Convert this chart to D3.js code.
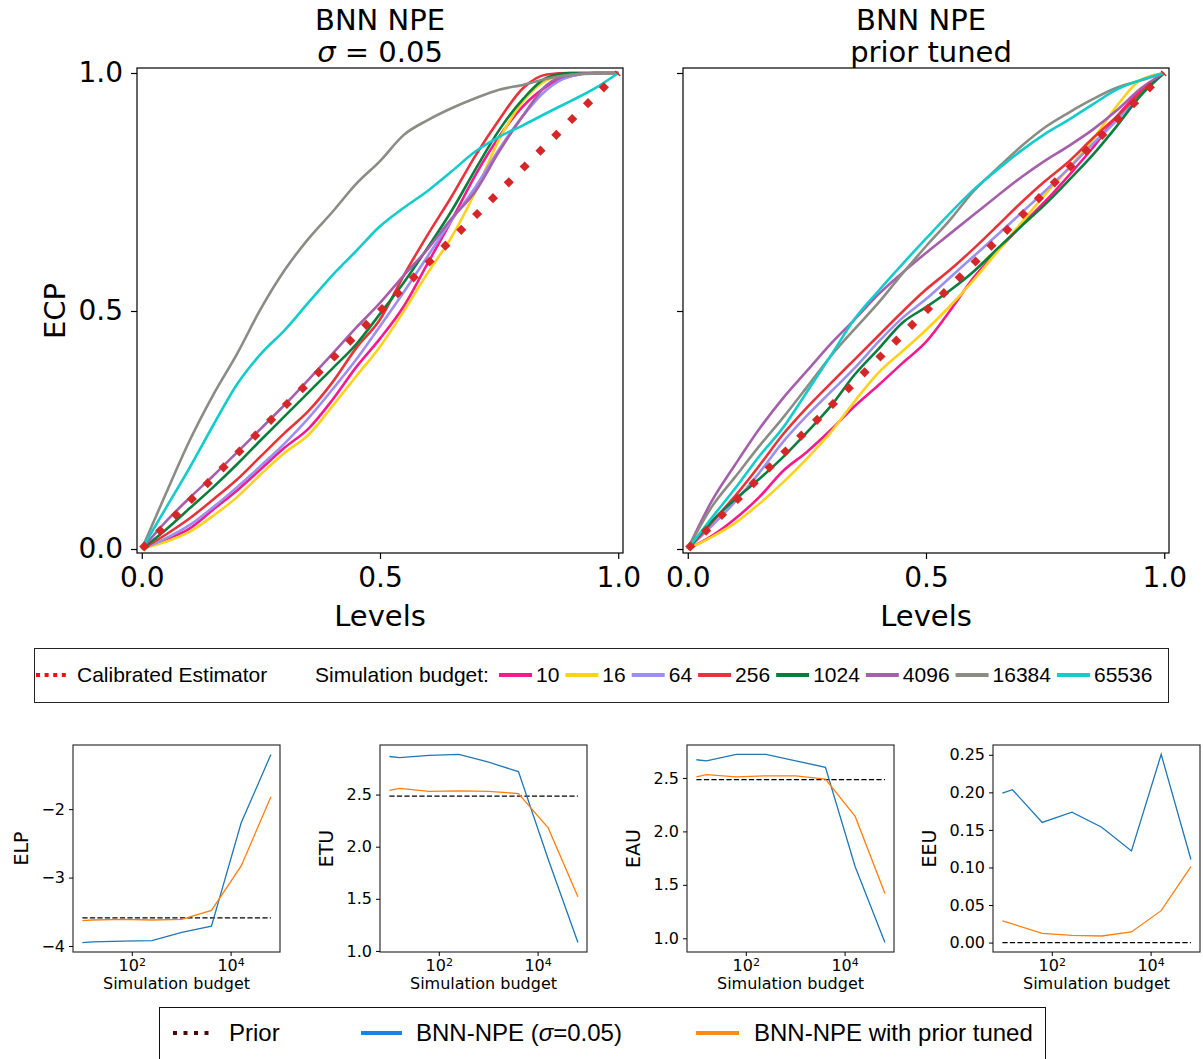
<!DOCTYPE html>
<html><head><meta charset="utf-8">
<script src="https://cdn.jsdelivr.net/npm/d3@7"></script>
<style>body{margin:0;background:#fff}svg{display:block}</style>
</head><body>
<svg id="c" width="1203" height="1059"></svg>
<script>
// ---------- data ----------
const levels = [0,0.05,0.1,0.15,0.2,0.25,0.3,0.35,0.4,0.45,0.5,0.55,0.6,0.65,0.7,0.75,0.8,0.85,0.9,0.95,1];
const budgets = [10,16,64,256,1024,4096,16384,65536];
const budgetLabels = ["10","16","64","256","1024","4096","16384","65536"];
const calibLevels = [0,1];

// BNN NPE sigma=0.05 (ECP per level)
const sig10    = [0,0.02,0.043,0.083,0.123,0.168,0.213,0.253,0.313,0.382,0.442,0.51,0.60,0.69,0.785,0.866,0.93,0.972,0.993,1,1];
const sig16    = [0,0.015,0.036,0.07,0.109,0.157,0.202,0.24,0.30,0.363,0.425,0.50,0.58,0.655,0.75,0.86,0.94,0.985,0.998,1,1];
const sig64    = [0,0.022,0.05,0.088,0.13,0.175,0.222,0.275,0.335,0.398,0.468,0.54,0.615,0.69,0.76,0.84,0.91,0.965,0.993,1,1];
const sig256   = [0,0.03,0.064,0.104,0.146,0.195,0.244,0.29,0.35,0.422,0.482,0.575,0.66,0.74,0.826,0.902,0.968,0.997,1,1,1];
const sig1024  = [0,0.04,0.085,0.13,0.178,0.229,0.279,0.329,0.379,0.43,0.494,0.56,0.633,0.71,0.797,0.88,0.945,0.99,1,1,1];
const sig4096  = [0,0.057,0.107,0.154,0.203,0.253,0.303,0.356,0.41,0.465,0.517,0.575,0.63,0.694,0.751,0.835,0.91,0.975,0.996,1,1];
const sig16384 = [0,0.115,0.227,0.324,0.41,0.505,0.586,0.652,0.708,0.767,0.815,0.87,0.901,0.926,0.947,0.965,0.975,0.988,0.996,0.999,1];
const sig65536 = [0,0.085,0.17,0.26,0.346,0.41,0.46,0.518,0.575,0.626,0.678,0.717,0.752,0.793,0.835,0.866,0.89,0.916,0.941,0.967,1];

// BNN NPE prior tuned
const tun10    = [0,0.027,0.064,0.109,0.164,0.204,0.25,0.30,0.344,0.39,0.435,0.50,0.57,0.626,0.68,0.73,0.785,0.843,0.908,0.963,1];
const tun16    = [0,0.025,0.055,0.095,0.14,0.19,0.245,0.31,0.37,0.415,0.46,0.51,0.565,0.625,0.685,0.745,0.80,0.86,0.93,0.985,1];
const tun64    = [0,0.048,0.10,0.16,0.225,0.28,0.33,0.38,0.435,0.485,0.525,0.57,0.615,0.66,0.706,0.752,0.80,0.851,0.90,0.955,1];
const tun256   = [0,0.055,0.112,0.175,0.241,0.297,0.348,0.398,0.448,0.498,0.545,0.586,0.631,0.679,0.728,0.773,0.814,0.863,0.908,0.958,1];
const tun1024  = [0,0.058,0.105,0.147,0.193,0.245,0.30,0.366,0.42,0.475,0.508,0.543,0.583,0.631,0.678,0.724,0.775,0.828,0.888,0.952,1];
const tun4096  = [0,0.10,0.178,0.252,0.317,0.374,0.431,0.482,0.535,0.58,0.622,0.662,0.702,0.742,0.781,0.816,0.847,0.881,0.921,0.967,1];
const tun16384 = [0,0.088,0.152,0.216,0.276,0.34,0.405,0.462,0.517,0.578,0.636,0.691,0.752,0.80,0.846,0.886,0.917,0.945,0.969,0.984,1];
const tun65536 = [0,0.065,0.128,0.195,0.255,0.33,0.406,0.483,0.542,0.598,0.652,0.705,0.755,0.797,0.837,0.872,0.902,0.934,0.965,0.985,1];

// bottom metrics
const elpBNN   = [-3.95,-3.94,-3.93,-3.92,-3.80,-3.71,-2.20,-1.20];
const elpTuned = [-3.63,-3.62,-3.61,-3.62,-3.61,-3.48,-2.83,-1.82];
const elpPrior = -3.59;
const etuBNN   = [2.865,2.855,2.875,2.885,2.81,2.72,1.88,1.08];
const etuTuned = [2.54,2.56,2.53,2.535,2.53,2.51,2.18,1.52];
const etuPrior = 2.485;
const eauBNN   = [2.67,2.66,2.72,2.72,2.66,2.60,1.67,0.96];
const eauTuned = [2.51,2.53,2.51,2.52,2.52,2.49,2.14,1.42];
const eauPrior = 2.485;
const eeuBNN   = [0.199,0.2035,0.160,0.1735,0.1535,0.122,0.2505,0.1106];
const eeuTuned = [0.0288,0.0248,0.0124,0.0097,0.0088,0.0142,0.0425,0.101];
const eeuPrior = 0;

const ecpTicks = [0,0.5,1];
const elpTicks = [-4,-3,-2];
const etuTicks = [1.0,1.5,2.0,2.5];
const eauTicks = [1.0,1.5,2.0,2.5];
const eeuTicks = [0,0.05,0.1,0.15,0.2,0.25];
const budgetTicks = [100,10000];

// ---------- styles ----------
const budgetColors = ["#f7198f","#ffd21a","#9d8ff0","#e8333a","#0b7e3d","#a55fab","#8c8c84","#12cccc"];
const FONT = "'DejaVu Sans', sans-serif";
const LFONT = "'Liberation Sans', Arial, sans-serif";
const svg = d3.select("#c");

// ---------- top panels ----------
function topPanel(cfg){
  const x = d3.scaleLinear().domain([-0.01,1.01]).range([cfg.left, cfg.left+486]);
  const y = d3.scaleLinear().domain([-0.0084,1.0105]).range([553,68]);
  const g = svg.append("g");
  const line = d3.line().x((d,i)=>x(levels[i])).y(d=>y(d)).curve(d3.curveMonotoneX);
  cfg.series.forEach((s,i)=>{
    g.append("path").attr("d", line(s)).attr("fill","none")
      .attr("stroke", budgetColors[i]).attr("stroke-width",2.6).attr("stroke-linejoin","round");
  });
  g.append("path").attr("d", d3.line().x(d=>x(d)).y(d=>y(d))(calibLevels))
    .attr("fill","none").attr("stroke","#d62728").attr("stroke-width",7.2)
    .attr("stroke-dasharray","7.2,15.2").attr("stroke-linecap","butt");
  g.append("rect").attr("x",cfg.left).attr("y",68).attr("width",486).attr("height",485)
    .attr("fill","none").attr("stroke","#000").attr("stroke-width",1.2);
  const ax = g.append("g").attr("transform",`translate(${cfg.left},0)`)
    .call(d3.axisLeft(y).tickValues(ecpTicks).tickSize(6).tickPadding(8)
      .tickFormat(cfg.ylabels ? d3.format(".1f") : ()=>""));
  const bx = g.append("g").attr("transform","translate(0,553)")
    .call(d3.axisBottom(x).tickValues(ecpTicks).tickSize(6).tickPadding(8).tickFormat(d3.format(".1f")));
  [ax,bx].forEach(a=>{
    a.select(".domain").remove();
    a.selectAll(".tick line").attr("stroke","#000").attr("stroke-width",1.2);
    a.selectAll(".tick text").attr("font-family",FONT).attr("font-size",28).attr("fill","#000");
  });
  const cx = (x(0)+x(1))/2;
  g.append("text").attr("x",cx).attr("y",626).attr("text-anchor","middle")
    .attr("font-family",FONT).attr("font-size",29).text("Levels");
  cfg.title(g, cx);
  if (cfg.ylabels){
    g.append("text").attr("transform","translate(65,311) rotate(-90)").attr("text-anchor","middle")
      .attr("font-family",FONT).attr("font-size",29).text("ECP");
  }
}

topPanel({left:137, ylabels:true,
  series:[sig10,sig16,sig64,sig256,sig1024,sig4096,sig16384,sig65536],
  title:(g,cx)=>{
    g.append("text").attr("x",cx).attr("y",30).attr("text-anchor","middle")
      .attr("font-family",FONT).attr("font-size",29).text("BNN NPE");
    const t = g.append("text").attr("x",cx).attr("y",62).attr("text-anchor","middle")
      .attr("font-family",FONT).attr("font-size",29);
    t.append("tspan").attr("font-style","italic").text("σ");
    t.append("tspan").text(" = 0.05");
  }});
topPanel({left:683, ylabels:false,
  series:[tun10,tun16,tun64,tun256,tun1024,tun4096,tun16384,tun65536],
  title:(g,cx)=>{
    g.append("text").attr("x",cx-5).attr("y",30).attr("text-anchor","middle")
      .attr("font-family",FONT).attr("font-size",29).text("BNN NPE");
    g.append("text").attr("x",cx+5).attr("y",62).attr("text-anchor","middle")
      .attr("font-family",FONT).attr("font-size",29).text("prior tuned");
  }});

// ---------- top legend ----------
(function(){
  const g = svg.append("g");
  g.append("rect").attr("x",34.5).attr("y",648.5).attr("width",1134).attr("height",54)
    .attr("fill","#fff").attr("stroke","#222").attr("stroke-width",1);
  const cy = 675, by = 682;
  g.append("line").attr("x1",36).attr("x2",69).attr("y1",cy).attr("y2",cy)
    .attr("stroke","#f01010").attr("stroke-width",4).attr("stroke-dasharray","4,4.6");
  g.append("text").attr("x",77).attr("y",by).attr("font-family",LFONT).attr("font-size",21).text("Calibrated Estimator");
  g.append("text").attr("x",315).attr("y",by).attr("font-family",LFONT).attr("font-size",21).text("Simulation budget:");
  let px = 499;
  budgetLabels.forEach((lab,i)=>{
    g.append("line").attr("x1",px).attr("x2",px+33).attr("y1",cy).attr("y2",cy)
      .attr("stroke",budgetColors[i]).attr("stroke-width",4);
    const t = g.append("text").attr("x",px+37).attr("y",by).attr("font-family",LFONT).attr("font-size",21).text(lab);
    px = px + 37 + t.node().getComputedTextLength() + 6;
  });
})();

// ---------- bottom panels ----------
const bottomPanels = [
  {left:73,  label:"ELP", blue:elpBNN, orange:elpTuned, prior:elpPrior, ticks:elpTicks, fmt:d3.format("d")},
  {left:380, label:"ETU", blue:etuBNN, orange:etuTuned, prior:etuPrior, ticks:etuTicks, fmt:d3.format(".1f")},
  {left:687, label:"EAU", blue:eauBNN, orange:eauTuned, prior:eauPrior, ticks:eauTicks, fmt:d3.format(".1f")},
  {left:993, label:"EEU", blue:eeuBNN, orange:eeuTuned, prior:eeuPrior, ticks:eeuTicks, fmt:d3.format(".2f")}
];
bottomPanels.forEach(p=>{
  const W = 207, top = 745, bot = 952;
  const x = d3.scaleLog().domain([Math.pow(10,0.81), Math.pow(10,5.0)]).range([p.left, p.left+W]);
  const all = p.blue.concat(p.orange, [p.prior]);
  const mn = d3.min(all), mx = d3.max(all), m = (mx-mn)*0.05;
  const y = d3.scaleLinear().domain([mn-m, mx+m]).range([bot, top]);
  const g = svg.append("g");
  const line = d3.line().x((d,i)=>x(budgets[i])).y(d=>y(d));
  g.append("line").attr("x1",x(budgets[0])).attr("x2",x(budgets[budgets.length-1]))
    .attr("y1",y(p.prior)).attr("y2",y(p.prior)).attr("stroke","#000").attr("stroke-width",1.3)
    .attr("stroke-dasharray","5.2,2.3");
  g.append("path").attr("d",line(p.blue)).attr("fill","none").attr("stroke","#1f77b4").attr("stroke-width",1.3);
  g.append("path").attr("d",line(p.orange)).attr("fill","none").attr("stroke","#ff7f0e").attr("stroke-width",1.3);
  g.append("rect").attr("x",p.left).attr("y",top).attr("width",W).attr("height",bot-top)
    .attr("fill","none").attr("stroke","#333").attr("stroke-width",1.2);
  const ay = g.append("g").attr("transform",`translate(${p.left},0)`)
    .call(d3.axisLeft(y).tickValues(p.ticks).tickSize(4).tickPadding(4).tickFormat(p.fmt));
  const ax = g.append("g").attr("transform",`translate(0,${bot})`)
    .call(d3.axisBottom(x).tickValues(budgetTicks).tickSize(4).tickPadding(4).tickFormat(()=>""));
  [ay,ax].forEach(a=>{
    a.select(".domain").remove();
    a.selectAll(".tick line").attr("stroke","#000").attr("stroke-width",1);
    a.selectAll(".tick text").attr("font-family",FONT).attr("font-size",16).attr("fill","#000");
  });
  ax.selectAll(".tick text").each(function(d){
    const t = d3.select(this);
    t.append("tspan").text("10");
    t.append("tspan").attr("dy","-0.45em").attr("font-size",11).text(Math.round(Math.log10(d)));
  });
  g.append("text").attr("x",p.left+W/2).attr("y",989).attr("text-anchor","middle")
    .attr("font-family",FONT).attr("font-size",16).text("Simulation budget");
  const bb = ay.node().getBBox();
  const lx = p.left + bb.x - 20;
  g.append("text").attr("transform",`translate(${lx},${(top+bot)/2}) rotate(-90)`)
    .attr("text-anchor","middle").attr("dy","0.35em")
    .attr("font-family",FONT).attr("font-size",19).text(p.label);
});

// ---------- bottom legend ----------
(function(){
  const g = svg.append("g");
  g.append("rect").attr("x",159.5).attr("y",1007.5).attr("width",886).attr("height",70)
    .attr("fill","#fff").attr("stroke","#111").attr("stroke-width",1);
  const cy = 1033, by = 1041;
  g.append("line").attr("x1",173).attr("x2",215).attr("y1",cy).attr("y2",cy)
    .attr("stroke","#4a0a0a").attr("stroke-width",4).attr("stroke-dasharray","4,6.5");
  g.append("text").attr("x",229).attr("y",by).attr("font-family",LFONT).attr("font-size",24).text("Prior");
  g.append("line").attr("x1",361).attr("x2",402).attr("y1",cy).attr("y2",cy)
    .attr("stroke","#1a82e8").attr("stroke-width",4);
  const t = g.append("text").attr("x",416).attr("y",by).attr("font-family",LFONT).attr("font-size",24);
  t.append("tspan").text("BNN-NPE (");
  t.append("tspan").attr("font-style","italic").text("σ");
  t.append("tspan").text("=0.05)");
  g.append("line").attr("x1",696).attr("x2",739).attr("y1",cy).attr("y2",cy)
    .attr("stroke","#ff8a14").attr("stroke-width",4);
  g.append("text").attr("x",754).attr("y",by).attr("font-family",LFONT).attr("font-size",24).text("BNN-NPE with prior tuned");
})();
</script>
</body></html>
